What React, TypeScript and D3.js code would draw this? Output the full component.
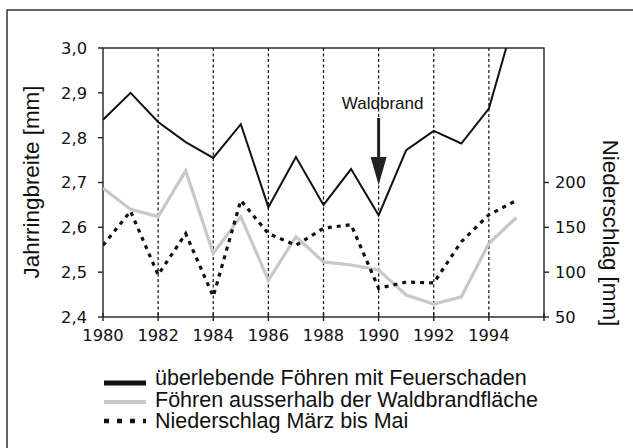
import React from "react";
import * as d3 from "d3";

const years = [1980, 1981, 1982, 1983, 1984, 1985, 1986, 1987, 1988, 1989, 1990, 1991, 1992, 1993, 1994, 1995];
const ringFire = [2.84, 2.9, 2.835, 2.79, 2.755, 2.83, 2.645, 2.757, 2.65, 2.73, 2.627, 2.772, 2.815, 2.787, 2.865, 3.08];
const ringOutside = [2.687, 2.64, 2.624, 2.726, 2.542, 2.624, 2.482, 2.579, 2.523, 2.516, 2.505, 2.449, 2.429, 2.445, 2.564, 2.622];
const precip = [130, 168, 97, 143, 73, 180, 143, 130, 149, 153, 82, 89, 88, 134, 164, 180];

const xTicks = [1980, 1982, 1984, 1986, 1988, 1990, 1992, 1994];
const gridYears = [1982, 1984, 1986, 1988, 1990, 1992, 1994];
const leftTicks = [2.4, 2.5, 2.6, 2.7, 2.8, 2.9, 3.0];
const rightTicks = [50, 100, 150, 200];
const legendLabels = [
  "überlebende Föhren mit Feuerschaden",
  "Föhren ausserhalb der Waldbrandfläche",
  "Niederschlag März bis Mai",
];

const W = 633;
const H = 448;
const left = 103, top = 48, right = 544, bottom = 317;
const tickFont = "'DejaVu Sans', Verdana, sans-serif";
const textFont = "'Liberation Sans', Arial, sans-serif";
const grey = "#c8c8c8";

export default function App() {
  const x = d3.scaleLinear().domain([1980, 1996]).range([left, right]);
  const yL = d3.scaleLinear().domain([2.4, 3.0]).range([bottom, top]);
  const yR = d3.scaleLinear().domain([50, 350]).range([bottom, top]);

  const lineL = d3.line<number>().x((_, i) => x(years[i])).y((d) => yL(d));
  const lineR = d3.line<number>().x((_, i) => x(years[i])).y((d) => yR(d));

  const fmt = (v: number) => v.toFixed(1).replace(".", ",");

  const ax = x(1990);
  const legendY = [383, 402, 421];
  const legendBase = [385, 406.5, 428];

  return (
    <svg width={W} height={H} style={{ position: "absolute", left: 0, top: 0, background: "#fff" }}>
      <defs>
        <clipPath id="plot">
          <rect x={left} y={top} width={right - left} height={bottom - top} />
        </clipPath>
      </defs>
      {/* outer frame, runs off the page on right and bottom */}
      <rect x={7} y={10} width={700} height={500} fill="none" stroke="#333" strokeWidth={1.5} />

      {/* dashed year lines */}
      {gridYears.map((yr) => (
        <line key={yr} x1={x(yr)} x2={x(yr)} y1={top} y2={bottom} stroke="#111" strokeWidth={1.2} strokeDasharray="3 2.5" />
      ))}

      <rect x={left} y={top} width={right - left} height={bottom - top} fill="none" stroke="#222" strokeWidth={1.4} />

      {xTicks.concat([1996]).map((t) => (
        <line key={t} x1={x(t)} x2={x(t)} y1={bottom - 4} y2={bottom + 4} stroke="#222" strokeWidth={1.4} />
      ))}
      {xTicks.map((t) => (
        <text key={t} x={x(t)} y={341} textAnchor="middle" fontFamily={tickFont} fontSize={16.3} fill="#111">
          {t}
        </text>
      ))}

      {leftTicks.map((t) => (
        <g key={t}>
          <line x1={left - 5} x2={left} y1={yL(t)} y2={yL(t)} stroke="#222" strokeWidth={1.4} />
          <text x={87} y={yL(t)} dy="0.36em" textAnchor="end" fontFamily={tickFont} fontSize={16.3} fill="#111">
            {fmt(t)}
          </text>
        </g>
      ))}

      {rightTicks.map((t) => (
        <g key={t}>
          <line x1={right} x2={right + 5} y1={yR(t)} y2={yR(t)} stroke="#222" strokeWidth={1.4} />
          <text x={555} y={yR(t)} dy="0.36em" textAnchor="start" fontFamily={tickFont} fontSize={16.3} fill="#111">
            {t}
          </text>
        </g>
      ))}

      <text transform={`translate(39,182) rotate(-90)`} textAnchor="middle" fontFamily={textFont} fontSize={22.4} fill="#111">
        Jahrringbreite [mm]
      </text>
      <text transform={`translate(603,233) rotate(90)`} textAnchor="middle" fontFamily={textFont} fontSize={22.4} fill="#111">
        Niederschlag [mm]
      </text>

      <g clipPath="url(#plot)">
        <path d={lineL(ringOutside) ?? ""} fill="none" stroke={grey} strokeWidth={3.2} />
        <path d={lineR(precip) ?? ""} fill="none" stroke="#111" strokeWidth={3.2} strokeDasharray="4 5" />
        <path d={lineL(ringFire) ?? ""} fill="none" stroke="#111" strokeWidth={2} />
      </g>

      {/* Waldbrand arrow */}
      <text x={ax + 4} y={109} textAnchor="middle" fontFamily={textFont} fontSize={17} fill="#111">
        Waldbrand
      </text>
      <line x1={ax} x2={ax} y1={118} y2={158} stroke="#222" strokeWidth={3} />
      <path d={`M${ax - 8},157 L${ax + 8},157 L${ax},185 Z`} fill="#222" />

      {/* legend */}
      <line x1={104} x2={146} y1={legendY[0]} y2={legendY[0]} stroke="#111" strokeWidth={5} />
      <line x1={104} x2={146} y1={legendY[1]} y2={legendY[1]} stroke={grey} strokeWidth={4} />
      <line x1={104} x2={146} y1={legendY[2]} y2={legendY[2]} stroke="#111" strokeWidth={4.5} strokeDasharray="5 8" />
      {legendLabels.map((l, i) => (
        <text key={l} x={155} y={legendBase[i]} fontFamily={textFont} fontSize={21.5} fill="#111">
          {l}
        </text>
      ))}
    </svg>
  );
}
